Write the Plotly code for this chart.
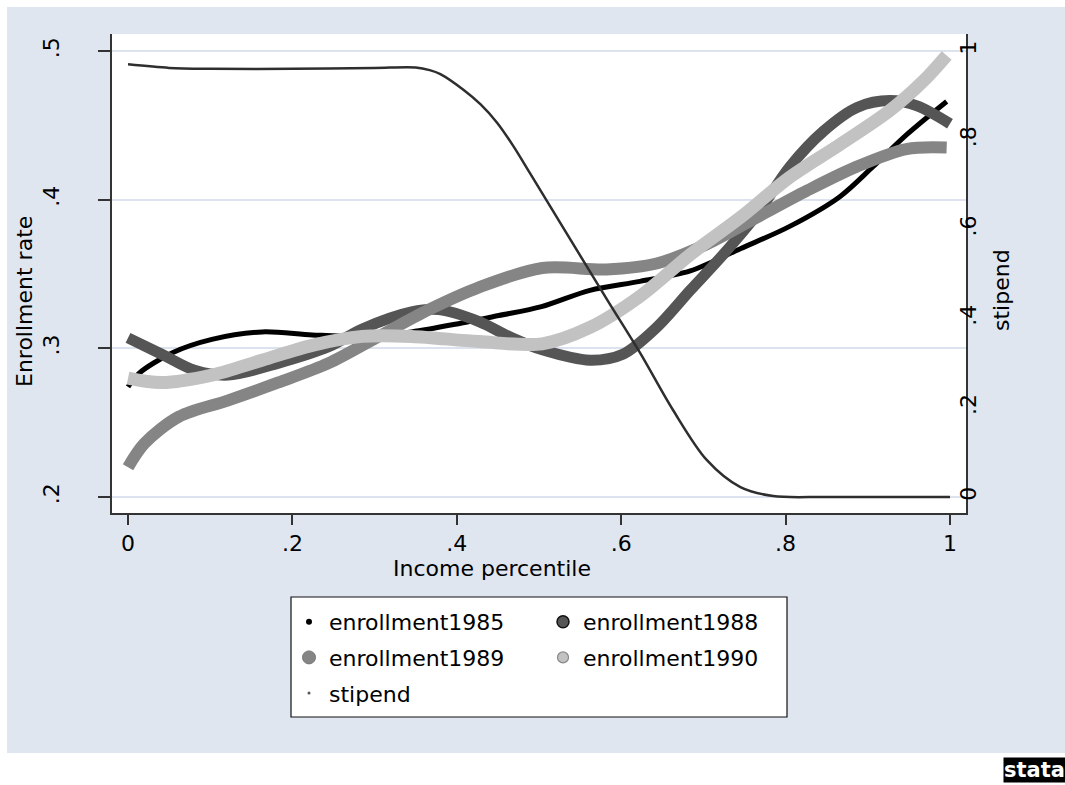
import plotly.graph_objects as go

# ---------------- data ----------------
x1985 = [0, 0.013, 0.054, 0.102, 0.163, 0.224, 0.285, 0.345, 0.406, 0.451, 0.503, 0.562, 0.623, 0.684, 0.745, 0.805, 0.866, 0.906, 0.948, 0.996]
y1985 = [0.274, 0.283, 0.297, 0.306, 0.311, 0.309, 0.308, 0.311, 0.317, 0.322, 0.328, 0.339, 0.345, 0.352, 0.367, 0.382, 0.402, 0.422, 0.444, 0.466]

x1988 = [0, 0.041, 0.082, 0.122, 0.183, 0.244, 0.285, 0.345, 0.378, 0.427, 0.467, 0.504, 0.562, 0.602, 0.643, 0.684, 0.724, 0.765, 0.805, 0.846, 0.887, 0.927, 0.96, 1.0]
y1988 = [0.307, 0.296, 0.285, 0.282, 0.290, 0.301, 0.313, 0.3245, 0.326, 0.318, 0.307, 0.299, 0.292, 0.296, 0.314, 0.339, 0.363, 0.390, 0.422, 0.446, 0.462, 0.4666, 0.463, 0.451]

x1989 = [0, 0.02, 0.062, 0.122, 0.183, 0.244, 0.305, 0.366, 0.427, 0.504, 0.582, 0.643, 0.704, 0.765, 0.826, 0.886, 0.947, 0.996]
y1989 = [0.220, 0.236, 0.254, 0.265, 0.277, 0.290, 0.308, 0.326, 0.341, 0.354, 0.353, 0.357, 0.370, 0.388, 0.406, 0.422, 0.434, 0.435]

x1990 = [0, 0.041, 0.102, 0.163, 0.224, 0.285, 0.345, 0.427, 0.504, 0.562, 0.623, 0.684, 0.745, 0.805, 0.866, 0.927, 0.968, 0.996]
y1990 = [0.280, 0.277, 0.282, 0.292, 0.302, 0.308, 0.308, 0.3045, 0.303, 0.314, 0.335, 0.363, 0.388, 0.415, 0.437, 0.460, 0.480, 0.497]

x_stipend = [0, 0.05, 0.1, 0.2, 0.3, 0.35, 0.367, 0.38, 0.408, 0.429, 0.449, 0.469, 0.489, 0.529, 0.583, 0.623, 0.663, 0.704, 0.745, 0.785, 0.85, 1.0]
y_stipend = [0.97, 0.962, 0.960, 0.960, 0.962, 0.963, 0.957, 0.948, 0.913, 0.880, 0.839, 0.786, 0.726, 0.605, 0.442, 0.323, 0.195, 0.083, 0.022, 0.002, 0.0, 0.0]

x_ticks = [0, 0.2, 0.4, 0.6, 0.8, 1]
x_ticklabels = ["0", ".2", ".4", ".6", ".8", "1"]
y_ticks = [0.2, 0.3, 0.4, 0.5]
y_ticklabels = [".2", ".3", ".4", ".5"]
y2_ticks = [0, 0.2, 0.4, 0.6, 0.8, 1]
y2_ticklabels = ["0", ".2", ".4", ".6", ".8", "1"]

# ---------------- styling ----------------
FONT = "DejaVu Sans, Liberation Sans, Arial, sans-serif"
BG = "#DFE6F0"
GRID = "#DCE3EE"
AXIS = "#333333"
W, H = 1065, 785
ML, MR, MT, MB = 112, 99, 34, 272
PW, PH = W - ML - MR, H - MT - MB


def px(xp):
    """page pixel x -> paper fraction"""
    return (xp - ML) / PW


def py(yp):
    """page pixel y -> paper fraction"""
    return (H - MB - yp) / PH


fig = go.Figure()

series = [
    ("enrollment1985", x1985, y1985, "#000000", 5, "y"),
    ("enrollment1988", x1988, y1988, "#555555", 11, "y"),
    ("enrollment1989", x1989, y1989, "#858585", 12, "y"),
    ("enrollment1990", x1990, y1990, "#C2C2C2", 13, "y"),
    ("stipend", x_stipend, y_stipend, "#2E2E2E", 2.5, "y2"),
]
for name, xs, ys, col, w, yax in series:
    fig.add_trace(go.Scatter(
        x=xs, y=ys, mode="lines", name=name, yaxis=yax,
        line=dict(color=col, width=w, shape="spline", smoothing=0.9),
        showlegend=False, hoverinfo="skip",
    ))

# legend entries (Stata-style marker keys)
legend_keys = [
    ("enrollment1985", dict(color="#000000", size=6), "legend"),
    ("enrollment1989", dict(color="#858585", size=13, line=dict(color="#777777", width=1)), "legend"),
    ("stipend", dict(color="#555555", size=3), "legend"),
    ("enrollment1988", dict(color="#555555", size=12, line=dict(color="#111111", width=1.5)), "legend2"),
    ("enrollment1990", dict(color="#C2C2C2", size=11, line=dict(color="#888888", width=1.2)), "legend2"),
]
for name, mk, lg in legend_keys:
    fig.add_trace(go.Scatter(
        x=[None], y=[None], mode="markers", name=name, marker=mk,
        legend=lg, legendgroup=name, showlegend=True,
    ))

white = dict(type="rect", xref="paper", yref="paper", fillcolor="white",
             line=dict(width=0), layer="below")
shapes = [
    dict(white, x0=px(-5), x1=px(W + 5), y0=py(7), y1=py(-5)),       # top strip
    dict(white, x0=px(-5), x1=px(7), y0=py(H + 5), y1=py(-5)),       # left strip
    dict(white, x0=px(-5), x1=px(W + 5), y0=py(H + 5), y1=py(753)),  # bottom strip
    # legend box
    dict(type="rect", xref="paper", yref="paper", x0=px(291), x1=px(787), y0=py(717), y1=py(597),
         fillcolor="white", line=dict(color="#111111", width=1.2), layer="below"),
]

annotations = [
    dict(text="Income percentile", x=px(492), y=py(568), xref="paper", yref="paper",
         showarrow=False, font=dict(size=22, color="#000000", family=FONT), xanchor="center", yanchor="middle"),
    dict(text="Enrollment rate", x=px(24), y=py(302), xref="paper", yref="paper", textangle=-90,
         showarrow=False, font=dict(size=22, color="#000000", family=FONT), xanchor="center", yanchor="middle"),
    dict(text="stipend", x=px(1001), y=py(290), xref="paper", yref="paper", textangle=-90,
         showarrow=False, font=dict(size=22, color="#000000", family=FONT), xanchor="center", yanchor="middle"),
    dict(text="<b>stata</b>", x=px(1034), y=py(770), xref="paper", yref="paper",
         showarrow=False, font=dict(size=21, color="white", family="DejaVu Sans, sans-serif"),
         bgcolor="#000000", borderpad=0, xanchor="center", yanchor="middle"),
]

fig.update_layout(
    width=W, height=H, autosize=False,
    margin=dict(l=ML, r=MR, t=MT, b=MB, pad=0),
    paper_bgcolor=BG, plot_bgcolor="white",
    font=dict(family=FONT, size=22, color="#000000"),
    shapes=shapes, annotations=annotations,
    xaxis=dict(
        range=[-0.0195, 1.0195], tickvals=x_ticks, ticktext=x_ticklabels,
        showgrid=False, zeroline=False, showline=True, linecolor=AXIS, linewidth=1.5,
        ticks="outside", ticklen=10, tickwidth=1.5, tickcolor=AXIS,
        tickfont=dict(size=22, family=FONT, color="#000000"), mirror=False,
    ),
    yaxis=dict(
        range=[0.1892, 0.5114], tickvals=y_ticks, ticktext=y_ticklabels,
        showgrid=True, gridcolor=GRID, gridwidth=1.5, zeroline=False,
        showline=True, linecolor=AXIS, linewidth=1.5,
        ticks="outside", ticklen=12, tickwidth=1.5, tickcolor=AXIS, tickangle=-90,
        ticklabelstandoff=30,
        tickfont=dict(size=22, family=FONT, color="#000000"),
    ),
    yaxis2=dict(
        range=[-0.036, 1.038], tickvals=y2_ticks, ticktext=y2_ticklabels,
        overlaying="y", side="right", showgrid=False, zeroline=False,
        showline=True, linecolor=AXIS, linewidth=1.5, ticks="", tickangle=-90,
        ticklabelstandoff=-18,
        tickfont=dict(size=22, family=FONT, color="#000000"),
    ),
    legend=dict(
        x=px(289), y=py(601), xanchor="left", yanchor="top", orientation="v",
        bgcolor="rgba(0,0,0,0)", borderwidth=0, tracegroupgap=4,
        font=dict(size=22, family=FONT, color="#000000"), itemsizing="trace",
    ),
    legend2=dict(
        x=px(543), y=py(601), xanchor="left", yanchor="top", orientation="v",
        bgcolor="rgba(0,0,0,0)", borderwidth=0, tracegroupgap=4,
        font=dict(size=22, family=FONT, color="#000000"), itemsizing="trace",
    ),
    showlegend=True,
)

# remove the default page margin so the 1065x785 figure fills the window exactly
fig.write_html(
    "out.html",
    config={"displayModeBar": False},
    post_script="document.body.style.margin='0';document.body.style.overflow='hidden';",
)
